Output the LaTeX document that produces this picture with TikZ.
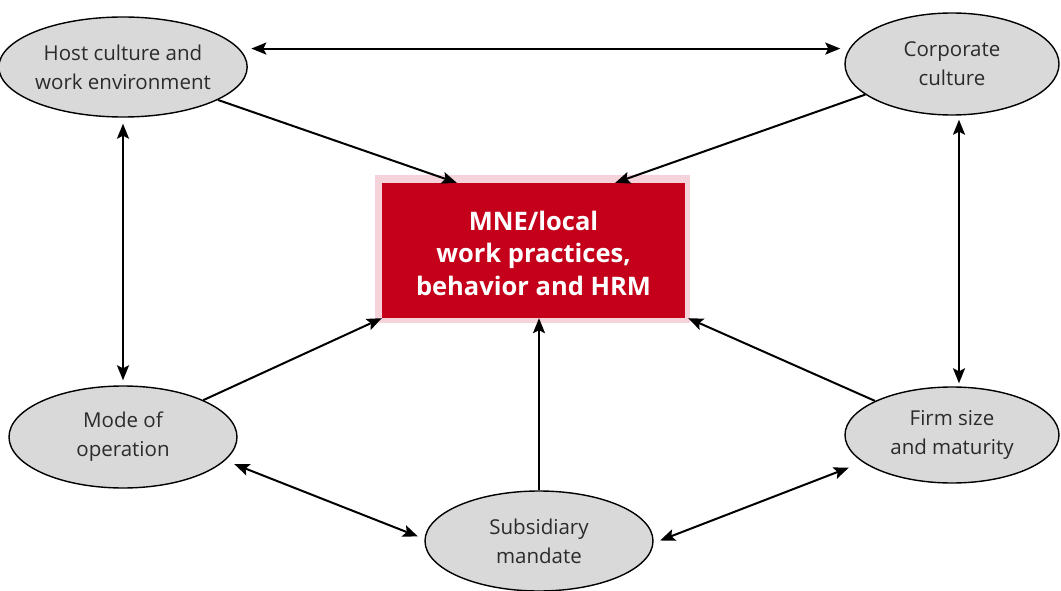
\documentclass[tikz,border=0pt]{standalone}
\usepackage{fontspec}
\setmainfont{Open Sans}
\usetikzlibrary{shapes.geometric,arrows.meta}
\definecolor{boxred}{HTML}{C4001A}
\definecolor{boxrim}{HTML}{F6D3DA}
\definecolor{ovalgrey}{HTML}{D9D9D9}
\definecolor{ovaltext}{HTML}{2B2B2B}
\begin{document}
\begin{tikzpicture}[x=1pt,y=-1pt,
  oval/.style={ellipse, draw=black, line width=1.4pt, fill=ovalgrey,
    minimum width=#1, minimum height=100pt, inner sep=0pt,
    font=\fontsize{20.5}{29}\selectfont, align=center, text=ovaltext},
  oval/.default=228pt,
  tip/.tip={Stealth[length=15pt,width=12pt,inset=3pt]},
  link/.style={line width=2pt, -tip},
  both/.style={line width=2pt, tip-tip}]
\path[use as bounding box, fill=white] (0,0) rectangle (1061,591);

% central box with pale rim
\node[fill=boxrim, minimum width=315pt, minimum height=148pt, inner sep=0pt] (rim) at (532.5,249) {};
\node[fill=boxred, minimum width=303pt, minimum height=135pt, inner sep=0pt] (hub) at (533.5,250.5) {};
\node[text=white, font=\bfseries\fontsize{25.5}{32.5}\selectfont, align=center] (hubtext) at (533.5,253)
  {MNE/local\\work practices,\\behavior and HRM};

% surrounding factors
\node[oval] (host) at (123,67) {Host culture and\\work environment};
\node[oval=214pt, minimum height=102pt] (corp) at (952,64) {Corporate\\culture};
\node[oval, minimum height=102pt] (mode) at (123,437) {Mode of\\operation};
\node[oval=214pt, minimum height=96pt] (firm) at (952,435) {Firm size\\and maturity};
\node[oval] (subs) at (539,541) {Subsidiary\\mandate};

% influences on the hub
\draw[link] (host) -- ([xshift=75pt]hub.north west);
\draw[link] (corp) -- ([xshift=-70pt]hub.north east);
\draw[link] (mode) -- (hub.south west);
\draw[link] (firm) -- ([xshift=3pt]hub.south east);
\draw[link] (subs) -- (subs.north |- hub.south);

% mutual links between factors
\draw[both, shorten <=12pt, shorten >=4pt] (host.9) -- (host.9 -| corp.west);
\draw[both, shorten <=6pt, shorten >=5pt] (host.south) -- (mode.north);
\draw[both, shorten <=4pt, shorten >=3pt] ([xshift=7pt]corp.south) -- ([xshift=7pt]firm.north);
\draw[both, shorten <=10pt, shorten >=7pt] (mode.-13.4) -- (subs.179);
\draw[both, shorten <=7pt, shorten >=15pt] (subs.-1) -- (firm.-163.9);
\end{tikzpicture}
\end{document}
